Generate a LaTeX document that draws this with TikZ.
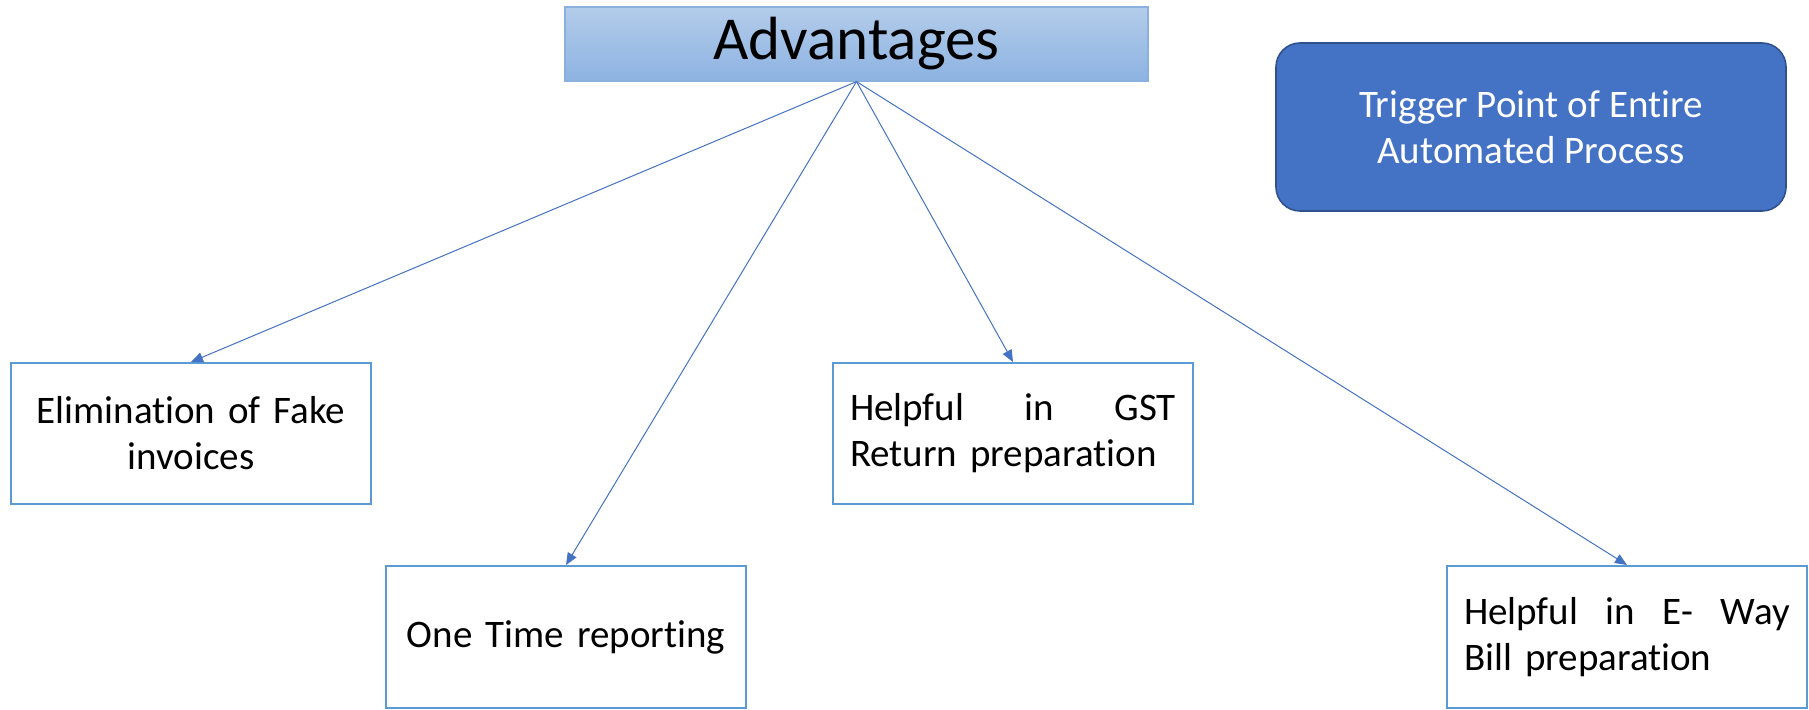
\documentclass[tikz,border=0pt]{standalone}
\usepackage{fontspec}
\setmainfont[Ligatures=NoCommon]{Carlito}
\usepackage{tikz}
\usetikzlibrary{shapes,arrows,arrows.meta,positioning,calc}

\definecolor{boxline}{HTML}{5B9BD5}
\definecolor{arrline}{HTML}{4472C4}
\definecolor{trigfill}{HTML}{4472C4}
\definecolor{trigline}{HTML}{2F528F}
\definecolor{advtop}{HTML}{B3CCEA}
\definecolor{advbot}{HTML}{8DB3E2}
\definecolor{advline}{HTML}{8AB0DE}

\begin{document}
\begin{tikzpicture}[x=0.5pt,y=-0.5pt,
    benefit/.style={draw=boxline,line width=1pt,fill=white,inner xsep=8.5pt,
      text width=163pt,minimum height=70.5pt,
      font=\fontsize{19.5}{23}\selectfont},
    arr/.style={draw=arrline,line width=0.5pt,-{Triangle[length=6pt,width=5pt]}}]
     \useasboundingbox (0,0) rectangle (1809,710);
     % heading and side note
     \node[draw=advline,line width=0.6pt,top color=advtop,bottom color=advbot,
       minimum width=291.5pt,minimum height=37pt,inner sep=0pt,
       font=\fontsize{30.5}{36}\selectfont] (adv) at (856.5,44) {Advantages};
     \node[draw=trigline,line width=0.8pt,fill=trigfill,rounded corners=12pt,
       minimum width=255pt,minimum height=84pt,text=white,align=center,
       font=\fontsize{19.5}{23}\selectfont] (trig) at (1531,127)
       {Trigger Point of Entire\\Automated Process};
     % the four advantages
     \node[benefit,align=center] (elim) at (191,433.5) {Elimination of Fake\\invoices};
     \node[benefit,align=center,minimum height=71pt] (once) at (566,637) {One Time reporting};
     \node[benefit] (gst) at (1013,433.5) {Helpful\hfill in\hfill GST\\Return preparation};
     \node[benefit,minimum height=71pt] (eway) at (1627,637) {Helpful\hfill in\hfill E-\hfill Way\\Bill preparation};
     \foreach \t in {elim,once,gst,eway}
       \draw[arr] (adv.south) -- (\t.north);
   \end{tikzpicture}
\end{document}
